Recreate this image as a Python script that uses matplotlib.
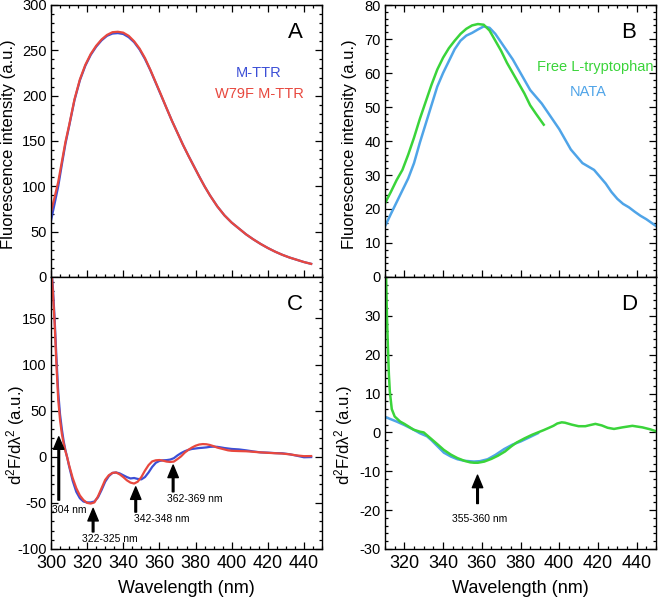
import numpy as np
import matplotlib
matplotlib.use('Agg')
import matplotlib.pyplot as plt
from matplotlib.ticker import MultipleLocator, FixedLocator

plt.rcParams['font.family'] = ['Liberation Sans', 'DejaVu Sans']
plt.rcParams['mathtext.fontset'] = 'custom'
plt.rcParams['mathtext.rm'] = 'Liberation Sans'
plt.rcParams['mathtext.it'] = 'Liberation Sans:italic'
plt.rcParams['axes.unicode_minus'] = False

# Panel A: emission spectra (a.u.)
wl_a = [300, 302, 304, 306, 308, 310, 313, 316, 319, 322, 325, 328, 331, 334, 337,
        340, 343, 346, 349, 352, 355, 358, 361, 364, 367, 370, 373, 376, 379, 382,
        385, 388, 392, 396, 400, 404, 408, 412, 416, 420, 424, 428, 432, 436, 440, 444]
mttr_a = [62, 81, 100, 124, 147, 166, 195, 217, 233, 245, 254, 261, 266, 268.5, 269,
          268, 264.5, 259, 251, 240.5, 228, 214, 200, 186, 172, 159, 146, 134, 122.5, 111,
          100, 90, 78, 68, 60, 53.5, 47, 41.5, 36.5, 32, 28, 24.5, 21.5, 19, 16.5, 14.5]
w79f_a = [72, 88, 105, 127, 149, 167, 196, 218, 234, 246, 255, 262, 267, 270, 270.5,
          269.5, 266, 260, 252, 241.5, 228.5, 214.5, 200.5, 186, 172, 159, 146, 134, 122.5, 111,
          100, 90, 78, 68, 60, 53.5, 47, 41.5, 36.5, 32, 28, 24.5, 21.5, 19, 16.5, 14.5]

# Panel B
wl_nata = [310, 313, 316, 319, 322, 325, 328, 331, 334, 337, 340, 343, 346, 349, 352,
           355, 358, 361, 364, 367, 370, 373, 376, 379, 382, 385, 388, 391, 394, 397,
           400, 403, 406, 409, 412, 415, 418, 421, 424, 427, 430, 433, 436, 439, 442,
           445, 448, 450]
nata_b = [14.9, 18.5, 22, 25.5, 29, 33.5, 39.5, 45, 50.5, 56, 60, 63.5, 67, 69.5, 71,
          71.8, 72.8, 73.7, 73.3, 71.5, 69, 66.5, 64, 61, 58, 55, 53, 51, 48.5, 46,
          43.5, 40.5, 37.5, 35.5, 33.5, 32.5, 31.5, 29.5, 27.5, 25, 23, 21.5, 20.5, 19.2, 18,
          17, 15.8, 15]
wl_trp = [310, 313, 316, 319, 322, 325, 328, 331, 334, 337, 340, 343, 346, 349, 352,
          355, 358, 361, 364, 367, 370, 373, 376, 379, 382, 385, 388, 392]
trp_b = [21.7, 25, 28.5, 31.5, 36, 41, 46.5, 51.5, 56.5, 61, 64.5, 67.3, 69.5, 71.5, 73,
         74, 74.4, 74.2, 72.5, 69.5, 66.5, 63, 60, 57, 54, 50.5, 48, 44.8]

# Panel C: second derivative
wl_c = [300, 301, 302, 303, 304, 305, 306, 307, 308, 309, 310, 312, 314, 316, 318,
        320, 322, 324, 326, 328, 330, 332, 334, 336, 338, 340, 342, 344, 346, 348,
        350, 352, 354, 356, 358, 360, 362, 364, 366, 368, 370, 372, 374, 376, 378,
        380, 382, 384, 386, 388, 390, 392, 394, 396, 398, 400, 404, 408, 412, 416,
        420, 424, 428, 432, 436, 440, 444]
w79f_c = [210, 180, 145, 100, 62, 40, 25, 14.5, 6, -1, -9, -23, -34, -42, -47,
          -50, -50.7, -49.5, -43, -34, -25, -20, -17.5, -17, -19, -22, -25.5, -28, -29, -27,
          -22, -15, -9, -5, -3.8, -3.5, -4.2, -5.2, -5.6, -5.2, -2.5, 0.5, 4.5, 7.5, 10,
          12, 13.3, 13.8, 13.6, 12.8, 11.5, 10, 9, 8, 7, 6.5, 6.2, 6, 5.4, 4.8,
          4.3, 3.9, 3.5, 2.7, 1.5, 0.7, 0.8]
mttr_c = [210, 185, 150, 108, 70, 46, 30, 17, 7, -1, -10, -26, -38, -45, -48.5,
          -49.5, -49.5, -48.5, -44, -36, -27, -21, -17.5, -17, -18, -20, -22, -23.5, -23, -24,
          -24.5, -22, -17, -11, -6.5, -4.5, -3.8, -3.6, -3, -1.5, 1.5, 4, 6, 7.5, 8.5,
          9, 9.5, 9.8, 10.2, 10.8, 11, 10.8, 10.2, 9.5, 9, 8.5, 8, 7, 5.8, 4.8,
          4.5, 4, 3.8, 2.8, 1.2, -0.5, -0.3]

# Panel D
wl_trp_d = [310.5, 311, 311.5, 312, 312.5, 313.5, 315, 317.8, 320, 324.8, 328, 330, 333.5,
            337, 340.4, 344, 347.4, 351, 354, 356, 358, 361.3, 365, 368.3, 372, 375.2,
            378, 382.2, 386, 389, 392, 394.3, 397, 399, 401.3, 403, 406.5, 410, 413.5,
            416, 418.7, 422, 425, 428.3, 432.6, 437.8, 443, 447, 450]
trp_d = [42, 30, 22, 15, 10.5, 6, 4.1, 2.8, 2.2, 0.7, 0.2, 0, -1.5,
         -3, -4.5, -5.7, -6.6, -7.3, -7.7, -7.8, -7.8, -7.5, -6.8, -6, -4.9, -3.6,
         -2.6, -1.5, -0.6, 0, 0.6, 1.1, 1.7, 2.3, 2.6, 2.5, 2, 1.6, 1.6,
         1.9, 2.2, 1.8, 1.2, 0.9, 1.3, 1.7, 1.3, 0.8, 0.3]
wl_nata_d = [310, 313, 316, 320, 324.8, 328, 331.7, 334, 337, 340.4, 344, 347.4, 351,
             356, 359, 363, 367, 371.5, 376, 380.2, 384, 389]
nata_d = [4.0, 3.4, 2.8, 1.9, 0.7, -0.2, -1, -2, -3.5, -5.2, -6.2, -6.9, -7.3,
          -7.5, -7.4, -6.9, -5.8, -4.3, -3.1, -2.3, -1.4, -0.2]

# arrows: (x, tip y, tail y, label, label x, label y, ha)
arrows_c = [(304.3, 21.7, -47, '304 nm', 300.4, -58, 'left'),
            (323.3, -56, -81.5, '322-325 nm', 317.2, -89, 'left'),
            (346.9, -32.6, -60, '342-348 nm', 345.9, -68, 'left'),
            (367.6, -9, -38, '362-369 nm', 364.4, -46, 'left')]
arrows_d = [(357.8, -11, -18.3, '355-360 nm', 358.7, -22.2, 'center')]

BLUE = '#3c4fd6'
RED = '#e8483e'
LBLUE = '#4fa4e8'
GREEN = '#3ad43a'

W, H = 658, 598
fig = plt.figure(figsize=(W / 100, H / 100), dpi=100)


def box(l, t, r, b):
    return [l / W, 1 - b / H, (r - l) / W, (b - t) / H]


axA = fig.add_axes(box(51, 5, 322, 277))
axB = fig.add_axes(box(385, 5, 656, 277))
axC = fig.add_axes(box(51, 277, 322, 549))
axD = fig.add_axes(box(385, 277, 656, 549))

axA.plot(wl_a, mttr_a, color=BLUE, lw=1.6)
axA.plot(wl_a, w79f_a, color=RED, lw=1.6)
axB.plot(wl_nata, nata_b, color=LBLUE, lw=1.8)
axB.plot(wl_trp, trp_b, color=GREEN, lw=1.8)
axC.plot(wl_c, mttr_c, color=BLUE, lw=1.6)
axC.plot(wl_c, w79f_c, color=RED, lw=1.6)
axD.plot(wl_nata_d, nata_d, color=LBLUE, lw=1.8)
axD.plot(wl_trp_d, trp_d, color=GREEN, lw=1.8)

for ax in (axA, axC):
    ax.set_xlim(300, 450)
for ax in (axB, axD):
    ax.set_xlim(310, 450)
axA.set_ylim(0, 300)
axB.set_ylim(0, 80)
axC.set_ylim(-100, 195)
axD.set_ylim(-30, 40)

axA.yaxis.set_major_locator(MultipleLocator(50))
axA.yaxis.set_minor_locator(MultipleLocator(10))
axB.yaxis.set_major_locator(MultipleLocator(10))
axB.yaxis.set_minor_locator(MultipleLocator(2))
axC.yaxis.set_major_locator(FixedLocator([-100, -50, 0, 50, 100, 150]))
axC.yaxis.set_minor_locator(MultipleLocator(10))
axD.yaxis.set_major_locator(FixedLocator([-30, -20, -10, 0, 10, 20, 30]))
axD.yaxis.set_minor_locator(MultipleLocator(2))

for ax in (axA, axB, axC, axD):
    ax.xaxis.set_major_locator(MultipleLocator(20))
    ax.xaxis.set_minor_locator(MultipleLocator(5))
    top = ax in (axA, axB)
    ax.tick_params(which='both', direction='in', top=top, right=True, width=0.9, pad=3)
    ax.tick_params(axis='x', labelsize=13, pad=4)
    ax.tick_params(axis='y', labelsize=10.5)
    ax.tick_params(which='major', length=5)
    ax.tick_params(which='minor', length=2.5)
    for s in ax.spines.values():
        s.set_linewidth(1.0)

for ax in (axA, axB):
    ax.tick_params(labelbottom=False)

for ax, letter in zip((axA, axB, axC, axD), 'ABCD'):
    ax.text(0.9, 0.9, letter, transform=ax.transAxes, fontsize=16, ha='center', va='center')

axA.set_ylabel('Fluorescence intensity (a.u.)', fontsize=12)
axB.set_ylabel('Fluorescence intensity (a.u.)', fontsize=12)
axC.set_ylabel('d$^2$F/dλ$^2$ (a.u.)', fontsize=12)
axD.set_ylabel('d$^2$F/dλ$^2$ (a.u.)', fontsize=12)
axA.yaxis.set_label_coords(-0.13, 0.49)
axB.yaxis.set_label_coords(-0.105, 0.49)
axC.yaxis.set_label_coords(-0.09, 0.42)
axD.yaxis.set_label_coords(-0.11, 0.42)
axC.set_xlabel('Wavelength (nm)', fontsize=13, labelpad=6)
axD.set_xlabel('Wavelength (nm)', fontsize=13, labelpad=6)

axA.text(415, 225.5, 'M-TTR', color=BLUE, fontsize=10.5, ha='center', va='center')
axA.text(415.6, 202, 'W79F M-TTR', color=RED, fontsize=10.5, ha='center', va='center')
axB.text(418.5, 61.8, 'Free L-tryptophan', color=GREEN, fontsize=10.5, ha='center', va='center')
axB.text(414.9, 54.4, 'NATA', color=LBLUE, fontsize=10.5, ha='center', va='center')

for ax, arrs in ((axC, arrows_c), (axD, arrows_d)):
    for x, ytip, ytail, lab, lx, ly, ha in arrs:
        ax.annotate('', xy=(x, ytip), xytext=(x, ytail),
                    arrowprops=dict(facecolor='black', edgecolor='black', width=1.2,
                                    headwidth=7.5, headlength=9, shrink=0))
        ax.text(lx, ly, lab, fontsize=7.5, ha=ha, va='center')

fig.savefig('out.png', dpi=100)
